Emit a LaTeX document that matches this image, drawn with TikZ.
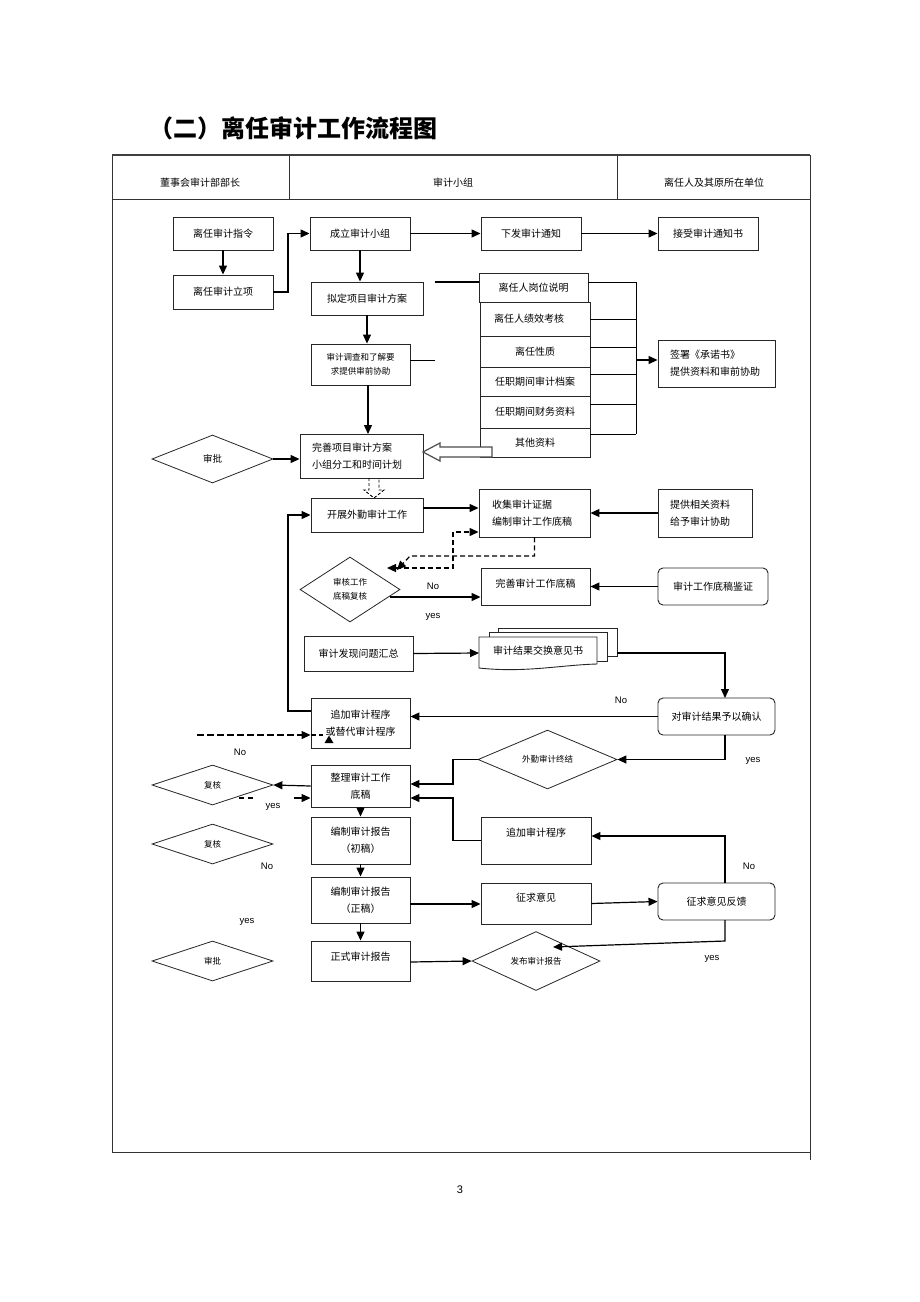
\documentclass[tikz,border=0pt]{standalone}
\usepackage{fontspec}
\setmainfont{Noto Sans CJK SC}
\newfontfamily\lat{Liberation Sans}
\usetikzlibrary{arrows.meta,shapes.geometric}
\begin{document}
\begin{tikzpicture}[x=1pt,y=-1pt,
  bx/.style={draw=black!85,line width=0.9pt,inner sep=1pt,align=center,font=\fontsize{10}{17}\selectfont},
  lbx/.style={bx,align=left,inner ysep=1pt},
  rbx/.style={bx,rounded corners=5pt},
  dia/.style={draw=black!85,line width=0.8pt,diamond,inner sep=0pt,align=center,font=\fontsize{8.5}{14}\selectfont},
  arr/.style={line width=1.2pt,-{Triangle[length=9pt,width=8pt]}},
  ln/.style={line width=0.9pt},
  dsh/.style={line width=1.2pt,dash pattern=on 5pt off 3pt},
  lab/.style={font=\lat\fontsize{9.5}{11}\selectfont},
]
\useasboundingbox[fill=white] (0,0) rectangle (920,1302);

% title
\node[anchor=west,font=\fontsize{24}{28}\selectfont\bfseries] (title) at (146,128) {（二）离任审计工作流程图};

% frame and header
\draw[line width=0.9pt,draw=black!80] (112,155) -- (112,1152) -- (810,1152);
\draw[line width=0.9pt,draw=black!80] (810,155) -- (810,1160);
\draw[line width=1.5pt,draw=black!75] (112,155) -- (810,155);
\draw[line width=0.9pt,draw=black!80] (112,199) -- (810,199);
\draw[line width=0.9pt,draw=black!80] (289,155) -- (289,199);
\draw[line width=0.9pt,draw=black!80] (617,155) -- (617,199);
\node[font=\fontsize{10}{12}\selectfont] (h1) at (200,183) {董事会审计部部长};
\node[font=\fontsize{10}{12}\selectfont] (h2) at (453,183) {审计小组};
\node[font=\fontsize{10}{12}\selectfont] (h3) at (714,183) {离任人及其原所在单位};

% top boxes
\node[bx,minimum width=100pt,minimum height=33pt] (zl) at (223,233.5) {离任审计指令};
\node[bx,minimum width=100pt,minimum height=34pt] (lx) at (223,292) {离任审计立项};
\node[bx,minimum width=100pt,minimum height=33pt] (cl) at (360,233.5) {成立审计小组};
\node[bx,minimum width=100pt,minimum height=33pt] (xf) at (531,233.5) {下发审计通知};
\node[bx,minimum width=100pt,minimum height=33pt] (js) at (708,233.5) {接受审计通知书};
\node[bx,minimum width=112pt,minimum height=33pt] (nd) at (367,298.5) {拟定项目审计方案};
\node[bx,minimum width=99pt,minimum height=41pt,font=\fontsize{8.5}{14}\selectfont] (dc) at (360.5,364.5) {审计调查和了解要\\求提供审前协助};
\node[lbx,minimum width=123pt,minimum height=44pt,inner xsep=12pt,text width=99pt] (ws) at (361.5,456) {完善项目审计方案\\小组分工和时间计划};
\node[dia,minimum width=121pt,minimum height=48pt,font=\fontsize{9.5}{12}\selectfont] (sp1) at (212.5,459) {审批};

% stack
\node[bx,minimum width=109pt,minimum height=29pt] (s1) at (533.5,287.5) {离任人岗位说明};
\node[bx,minimum width=110pt,minimum height=34pt] (s2) at (535,319) {\hspace*{-12pt}离任人绩效考核};
\node[bx,minimum width=110pt,minimum height=31pt] (s3) at (535,351.5) {离任性质};
\node[bx,minimum width=110pt,minimum height=29pt] (s4) at (535,381.5) {任职期间审计档案};
\node[bx,minimum width=110pt,minimum height=32pt] (s5) at (535,412) {任职期间财务资料};
\node[bx,minimum width=110pt,minimum height=29pt] (s6) at (535,442.5) {其他资料};
\node[lbx,minimum width=117pt,minimum height=47pt,inner xsep=12pt,text width=93pt] (qs) at (716.5,363.5) {签署《承诺书》\\提供资料和审前协助};

% fieldwork
\node[bx,minimum width=112pt,minimum height=34pt] (kz) at (367,515) {开展外勤审计工作};
\node[lbx,minimum width=111pt,minimum height=48pt,inner xsep=13pt,text width=85pt] (sj) at (534.5,513) {收集审计证据\\编制审计工作底稿};
\node[lbx,minimum width=94pt,minimum height=48pt,inner xsep=12pt,text width=70pt] (tg) at (705,513) {提供相关资料\\给予审计协助};
\node[dia,minimum width=100pt,minimum height=65pt] (sh) at (350,589.5) {审核工作\\底稿复核};
\node[bx,minimum width=109pt,minimum height=37pt,text height=8pt,text depth=6pt] (wsd) at (535.5,586.5) {完善审计工作底稿};
\node[rbx,minimum width=110pt,minimum height=37pt] (jz) at (713,586.5) {审计工作底稿鉴证};
\node[bx,minimum width=109pt,minimum height=35pt] (hz) at (358.5,653.5) {审计发现问题汇总};

% multi document
\filldraw[line width=0.9pt,draw=black!85,fill=white] (607,656) -- (617,656) -- (617,628) -- (498,628) -- (498,632);
\filldraw[line width=0.9pt,draw=black!85,fill=white] (489,661) -- (489,632) -- (607,632) -- (607,661) -- (597,661);
\filldraw[line width=0.9pt,draw=black!85,fill=white] (479,668) -- (479,637) -- (597,637) -- (597,664) .. controls (560,665) and (525,673) .. (479,668);
\node[font=\fontsize{10}{12}\selectfont] (yjs) at (538,651) {审计结果交换意见书};
\coordinate (yin) at (479,653);
\coordinate (yout) at (617,653);

\node[rbx,minimum width=117pt,minimum height=37pt] (qr) at (716.5,716.5) {对审计结果予以确认};
\node[bx,minimum width=99pt,minimum height=50pt] (zj) at (360.5,723) {追加审计程序\\或替代审计程序};
\node[dia,minimum width=139pt,minimum height=49pt] (wq) at (547.5,759.5) {外勤审计终结};

% report stage
\node[bx,minimum width=99pt,minimum height=42pt] (zl2) at (360.5,786) {整理审计工作\\底稿};
\node[dia,minimum width=121pt,minimum height=40pt] (fh1) at (212.5,785) {复核};
\node[bx,minimum width=110pt,minimum height=47pt,text height=8pt,text depth=15.4pt] (zj2) at (536,840.5) {追加审计程序};
\node[bx,minimum width=99pt,minimum height=47pt] (cg) at (360.5,840.5) {编制审计报告\\（初稿）};
\node[dia,minimum width=121pt,minimum height=40pt] (fh2) at (212.5,844) {复核};
\node[bx,minimum width=99pt,minimum height=46pt] (zg) at (360.5,900) {编制审计报告\\（正稿）};
\node[bx,minimum width=110pt,minimum height=41pt,text height=8pt,text depth=11.4pt] (zq) at (536,903.5) {征求意见};
\node[rbx,minimum width=117pt,minimum height=37pt] (fk) at (716.5,901.5) {征求意见反馈};
\node[bx,minimum width=99pt,minimum height=40pt,text height=8pt,text depth=8.4pt] (zs) at (360.5,961) {正式审计报告};
\node[dia,minimum width=128pt,minimum height=40pt] (fb) at (536,961) {发布审计报告};
\node[dia,minimum width=121pt,minimum height=40pt] (sp2) at (212.5,961) {审批};

% connectors: top
\draw[arr] (zl) -- (lx);
\draw[arr] (lx.east) -- (288,292) |- (cl.west);
\draw[arr] (cl.south) -- (cl.south |- nd.north);
\draw[arr] (cl) -- (xf);
\draw[arr] (xf) -- (js);
\draw[arr] (nd.south) -- (nd.south |- dc.north);
\draw[arr] (368,385) -- (368,434);
\coordinate (st1) at (435,360);
\coordinate (st2) at (435,282);
\draw[ln] (dc.east |- st1) -- (st1);
\draw[line width=1.4pt] (st2) -- (st2 -| s1.west);
\draw[ln] (s1.east |- 0,282) -- (636,282);
\draw[ln] (s2.east |- 0,319) -- (636,319);
\draw[ln] (s3.east |- 0,347) -- (636,347);
\draw[ln] (s4.east |- 0,374) -- (636,374);
\draw[ln] (s5.east |- 0,404) -- (636,404);
\draw[ln] (s6.east |- 0,434) -- (636,434);
\draw[ln] (636,282) -- (636,434);
\coordinate (bus) at (636,360);
\draw[arr] (bus) -- (bus -| qs.west);
\draw[arr] (sp1.east) -- (sp1.east -| ws.west);
% hollow arrow
\draw[line width=1.2pt,draw=black!70,fill=white] (423,452) -- (440,443) -- (440,447) -- (492,447) -- (492,457) -- (440,457) -- (440,461) -- cycle;
% dashed hollow arrow
\draw[line width=0.9pt,dash pattern=on 3pt off 2pt] (369,478) -- (369,490) -- (364,490) -- (374,498) -- (384,490) -- (379,490) -- (379,478);

% connectors: fieldwork
\draw[arr] (kz.east |- 0,508) -- (sj.west |- 0,508);
\draw[arr] (tg.west) -- (sj.east);
\draw[dsh,-{Triangle[length=9pt,width=8pt]}] (sj.south) -- (534.5,556) -- (410,556) -- (397,570);
\draw[dsh,{Triangle[length=9pt,width=8pt]}-{Triangle[length=9pt,width=8pt]}] (387,568) -- (453,568) -- (453,532) -- (sj.west |- 0,532);
\draw[arr] (390,597) -- (wsd.west |- 0,597);
\draw[arr] (jz.west) -- (wsd.east);
\node[lab] (no1) at (433,586) {No};
\node[lab] (yes1) at (433,617) {yes};
\draw[arr] (hz.east) -- (yin);
\coordinate (qrn) at (725,698);
\draw[arr] (yout) -| (qrn);
\draw[arr] (qr.west) -- (qr.west -| zj.east);
\node[lab] (no2) at (621,700) {No};
\draw[arr] (zj.west |- 0,711) -- (288,711) |- (kz.west);
\coordinate (dstart) at (197,735);
\draw[dsh,dash pattern=on 7pt off 3pt,-{Triangle[length=9pt,width=8pt]}] (dstart) -- (dstart -| zj.west);
\draw[dsh] (zj.west |- dstart) -- (323,735);
\fill (324.5,743) -- (333.5,743) -- (329,735.5) -- cycle;
\node[lab] (no3) at (240,752) {No};
\draw[arr] (725,735) |- (wq.east);
\node[lab] (yes2) at (753,761) {yes};

% connectors: report stage
\draw[arr] (wq.west) -- (453,759.5) |- (zl2.east |- 0,784);
\draw[arr] (zl2.west) -- (fh1.east);
\draw[line width=1.2pt,dash pattern=on 5pt off 4pt on 5pt off 41pt on 20pt,-{Triangle[length=9pt,width=8pt]}] (239,798) -- (zl2.west |- 0,798);
\node[lab] (yes3) at (273,807) {yes};
\draw[arr] (zj2.west) -- (453,840.5) |- (zl2.east |- 0,798);
\draw[arr] (zl2) -- (cg);
\draw[arr] (cg) -- (zg);
\draw[arr] (zg) -- (zs);
\node[lab] (no4) at (267,866) {No};
\draw[arr] (zg.east |- 0,904) -- (zq.west |- 0,904);
\draw[arr] (zq.east) -- (fk.west);
\draw[arr] (725,883) |- (zj2.east |- 0,836);
\node[lab] (no5) at (749,866) {No};
\draw[arr] (725,920) -- (725,941) -- (553,947);
\node[lab] (yes4) at (712,959) {yes};
\node[lab] (yes5) at (247,922) {yes};
\draw[arr] (zs.east |- 0,962) -- (fb.west);

\node[font=\lat\fontsize{11}{13}\selectfont] (pg) at (460,1190) {3};
\end{tikzpicture}
\end{document}
